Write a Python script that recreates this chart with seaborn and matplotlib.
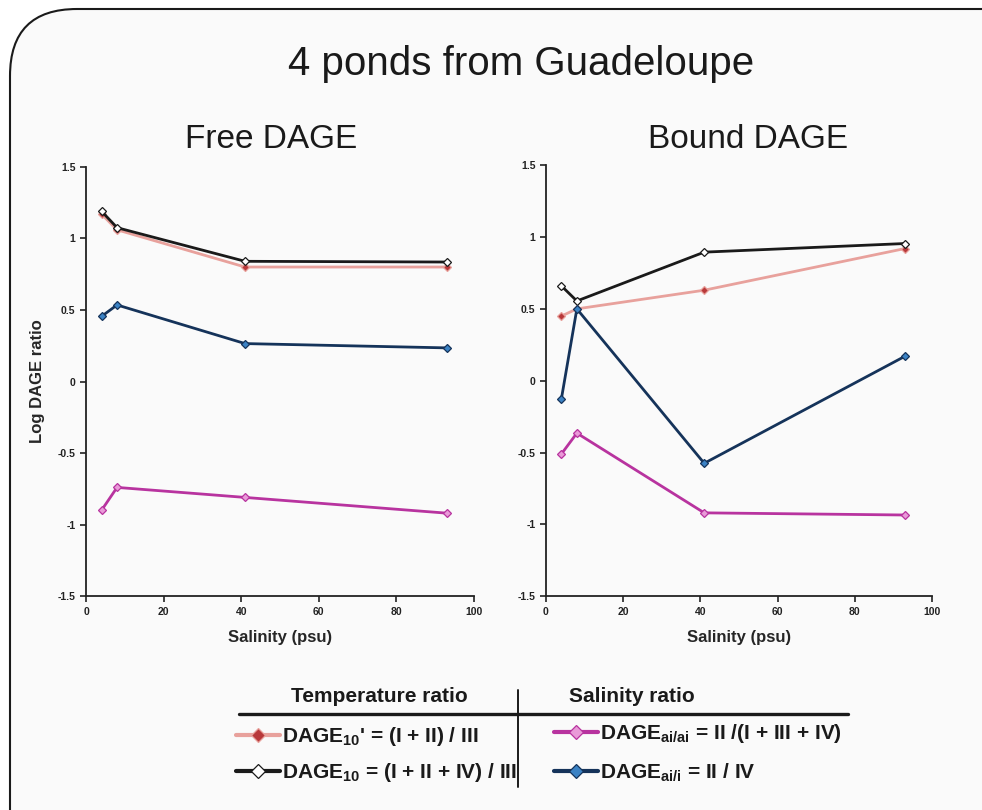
import matplotlib
matplotlib.use("Agg")
import matplotlib.pyplot as plt
import seaborn as sns
from matplotlib.patches import FancyBboxPatch
from matplotlib.lines import Line2D
from matplotlib.ticker import FuncFormatter, MultipleLocator

sns.set_style("ticks")
plt.rcParams["font.family"] = ["Liberation Sans", "DejaVu Sans"]
plt.rcParams["mathtext.fontset"] = "custom"
plt.rcParams["mathtext.bf"] = "Liberation Sans:bold"
plt.rcParams["mathtext.rm"] = "Liberation Sans:bold"
plt.rcParams["mathtext.default"] = "bf"
plt.rcParams["axes.unicode_minus"] = False

# salinity of the 4 ponds (psu)
salinity = [4, 8, 41, 93]

# Free DAGE
free_dage10p = [1.17, 1.06, 0.80, 0.80]
free_dage10 = [1.19, 1.075, 0.84, 0.835]
free_ai_ai = [-0.90, -0.74, -0.81, -0.92]
free_ai_i = [0.455, 0.535, 0.265, 0.235]

# Bound DAGE
bound_dage10p = [0.45, 0.50, 0.63, 0.92]
bound_dage10 = [0.66, 0.555, 0.895, 0.955]
bound_ai_ai = [-0.51, -0.365, -0.92, -0.935]
bound_ai_i = [-0.125, 0.50, -0.575, 0.17]

labels = [
    r"DAGE$_{10}$' = (I + II) / III",
    r"DAGE$_{10}$ = (I + II + IV) / III",
    r"DAGE$_{ai/ai}$ = II /(I + III + IV)",
    r"DAGE$_{ai/i}$ = II / IV",
]
styles = [
    dict(color="#e8a19c", markerfacecolor="#b8383a", markeredgecolor="#e8a19c"),
    dict(color="#1a1a1a", markerfacecolor="white", markeredgecolor="#1a1a1a"),
    dict(color="#b8339f", markerfacecolor="#e99ad8", markeredgecolor="#b8339f"),
    dict(color="#15335a", markerfacecolor="#3b82c4", markeredgecolor="#15335a"),
]

fig = plt.figure(figsize=(9.82, 8.1), dpi=100, facecolor="white")

# rounded panel behind everything
panel = FancyBboxPatch((0.10, -1.0), 11.0, 9.01,
                       boxstyle="round,pad=0,rounding_size=0.67",
                       transform=fig.dpi_scale_trans, facecolor="#fafafa",
                       edgecolor="#1a1a1a", linewidth=1.5, zorder=-10)
fig.add_artist(panel)

ax1 = fig.add_axes([0.0876, 0.264, 0.395, 0.530])
ax2 = fig.add_axes([0.556, 0.264, 0.393, 0.532])

datasets = [
    (ax1, [free_dage10p, free_dage10, free_ai_ai, free_ai_i]),
    (ax2, [bound_dage10p, bound_dage10, bound_ai_ai, bound_ai_i]),
]
for ax, series in datasets:
    ax.set_facecolor("none")
    for vals, st, lab in zip(series, styles, labels):
        sns.lineplot(x=salinity, y=vals, ax=ax, marker="D", markersize=4.5,
                     linewidth=2.0, markeredgewidth=0.9, label=lab, **st)
    ax.legend_.remove()
    ax.set_xlim(0, 100)
    ax.set_ylim(-1.5, 1.5)
    ax.xaxis.set_major_locator(MultipleLocator(20))
    ax.yaxis.set_major_locator(MultipleLocator(0.5))
    ax.yaxis.set_major_formatter(FuncFormatter(lambda v, p: f"{v:g}"))
    for lbl in ax.get_xticklabels() + ax.get_yticklabels():
        lbl.set_fontweight("bold")
    ax.tick_params(labelsize=7.5, length=4, width=1.2, direction="out", colors="#222222")
    for s in ["left", "bottom"]:
        ax.spines[s].set_linewidth(1.3)
        ax.spines[s].set_color("#222222")
    sns.despine(ax=ax)
    ax.set_xlabel("Salinity (psu)", fontsize=12, fontweight="bold")
    ax.xaxis.set_label_coords(0.5, -0.078)

ax1.set_ylabel("Log DAGE ratio", fontsize=12, fontweight="bold")
ax1.yaxis.set_label_coords(-0.106, 0.5)
ax2.set_ylabel("")

handles = ax1.get_lines()

fig.text(0.5305, 1 - 64 / 810, "4 ponds from Guadeloupe", fontsize=29,
         ha="center", va="center", color="#1a1a1a")
fig.text(271 / 982, 1 - 140 / 810, "Free DAGE", fontsize=24, ha="center", va="center",
         color="#1a1a1a")
fig.text(748 / 982, 1 - 140 / 810, "Bound DAGE", fontsize=24, ha="center", va="center",
         color="#1a1a1a")

# legend block: two column headers, rules, then two legends
fig.text(379 / 982, 1 - 697 / 810, "Temperature ratio", fontsize=15, fontweight="bold",
         ha="center", va="center", color="#1a1a1a")
fig.text(632 / 982, 1 - 697 / 810, "Salinity ratio", fontsize=15, fontweight="bold",
         ha="center", va="center", color="#1a1a1a")
fig.add_artist(Line2D([239 / 982, 848 / 982], [1 - 714 / 810] * 2, color="#1a1a1a",
                      linewidth=2.4, transform=fig.transFigure))
fig.add_artist(Line2D([518 / 982] * 2, [1 - 690 / 810, 1 - 787 / 810], color="#1a1a1a",
                      linewidth=1.4, transform=fig.transFigure))

leg_kw = dict(frameon=False, handlelength=2.1, handletextpad=0.12,
              borderpad=0, borderaxespad=0, prop={"weight": "bold", "size": 15})
leg1 = fig.legend(handles[:2], labels[:2], loc="upper left", labelspacing=0.64,
                  bbox_to_anchor=(236 / 982, 1 - 725 / 810), **leg_kw)
leg2 = fig.legend(handles[2:4], labels[2:4], loc="upper left", labelspacing=0.8,
                  bbox_to_anchor=(554 / 982, 1 - 722 / 810), **leg_kw)
for leg in (leg1, leg2):
    for ln in leg.get_lines():
        ln.set_linewidth(3.0)
        ln.set_markersize(7.5)
    for t in leg.get_texts():
        t.set_color("#1a1a1a")

fig.savefig("out.png", dpi=100)
